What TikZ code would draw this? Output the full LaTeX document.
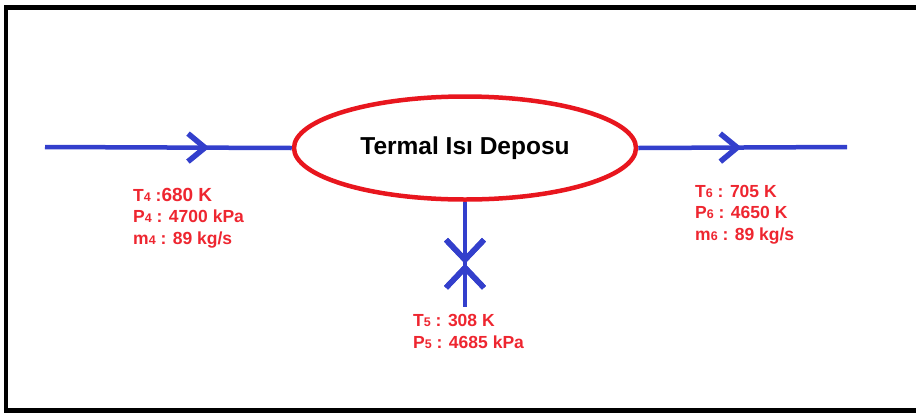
\documentclass[tikz,border=0pt]{standalone}
\usepackage{fontspec}
\setmainfont{Liberation Sans}
\usetikzlibrary{shapes.geometric,decorations.markings}
\definecolor{flowblue}{RGB}{51,63,204}
\definecolor{tankred}{RGB}{232,22,30}
\definecolor{labelred}{RGB}{238,38,48}
\newcommand{\stnum}[1]{{\fontsize{12.5}{12}\selectfont #1}}
\tikzset{
  flow/.style={draw=flowblue, line width=4.5pt},
  chev/.style={draw=flowblue, line width=5.5pt},
  chevfwd/.style={postaction={decorate}, decoration={markings,
      mark=at position #1 with {\draw[chev] (-17pt,14pt) -- (0pt,0pt) -- (-17pt,-14pt);}}},
  chevdown/.style={postaction={decorate}, decoration={markings,
      mark=at position #1 with {\draw[chev] (-20pt,19pt) -- (0pt,0pt) -- (-20pt,-19pt);}}},
  chevbwd/.style={postaction={decorate}, decoration={markings,
      mark=at position #1 with {\draw[chev] (20pt,19pt) -- (0pt,0pt) -- (20pt,-19pt);}}},
  tank/.style={ellipse, draw=tankred, line width=4.5pt, minimum width=342pt,
      minimum height=103pt, inner sep=0pt, font=\fontsize{24.5}{28}\selectfont\bfseries},
  lbl/.style={text=labelred, align=left, anchor=base west, inner sep=0pt,
      font=\fontsize{17.5}{21.5}\selectfont\bfseries}
}
\begin{document}
\begin{tikzpicture}[x=1pt, y=-1pt]
\useasboundingbox (0,0) rectangle (916,416);
\draw[line width=4.5pt] (6,7.5) rectangle (940,410.5);

\node[tank] (depo) at (465,148) {Termal Isı Deposu};
\coordinate (in4) at (45,147);
\coordinate (out6) at (847,147);
\coordinate (in5) at (465,307);

\draw[flow, chevfwd=160pt] (in4) -- (depo.west);
\draw[flow, chevfwd=99pt] (depo.east) -- (out6);
\draw[flow, chevdown=58pt, chevbwd=66pt] (depo.south) -- (in5);

% last line baselines
\node[lbl] (lbl4) at (133,244) {T\stnum{4} :{\fontsize{19}{21}\selectfont 680 K}\\P\stnum{4} : 4700 kPa\\m\stnum{4} : 89 kg/s};
\node[lbl] (lbl6) at (695,240) {T\stnum{6} : 705 K\\P\stnum{6} : 4650 K\\m\stnum{6} : 89 kg/s};
\node[lbl] (lbl5) at (413,348) {T\stnum{5} : 308 K\\P\stnum{5} : 4685 kPa};
\end{tikzpicture}
\end{document}
